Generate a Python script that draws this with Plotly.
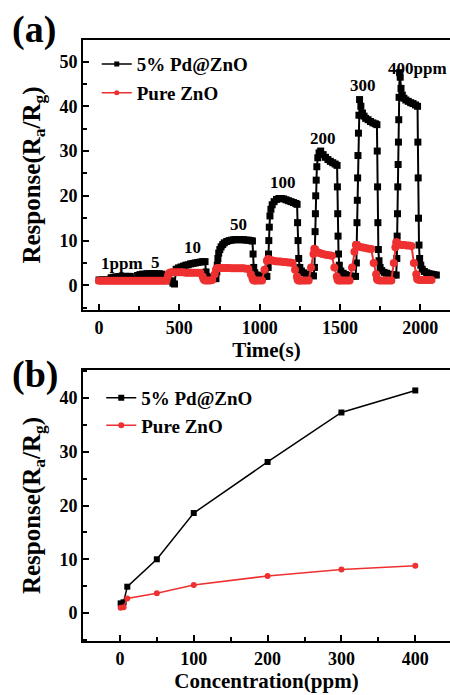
import plotly.graph_objects as go

FONT = "Liberation Serif"

# ---------------- Panel (a): dynamic response vs time ----------------
pd_t = [0, 15, 30, 45, 60,
        75, 90, 105, 120, 135, 150, 165, 180, 195, 210, 225,
        240, 255, 270, 285, 300, 315, 330, 345, 360, 375, 390, 405, 420, 435, 450, 460, 470,
        480, 495, 510, 525, 540, 555, 570, 585, 600, 615, 630, 645, 660,
        666, 672, 685, 700, 715, 728,
        733, 736, 740, 745, 752, 760, 770, 780, 795, 810, 825, 840, 855, 870, 885, 900, 915, 930, 945, 955,
        959, 963, 970, 985, 1000, 1015, 1030, 1045,
        1053, 1055, 1057, 1060, 1064, 1070, 1078, 1090, 1105, 1120, 1135, 1150, 1165, 1180, 1195, 1210, 1225, 1233,
        1236, 1239, 1243, 1250, 1260, 1275, 1290, 1305, 1320, 1335,
        1341, 1343, 1345, 1347, 1349, 1352, 1356, 1362, 1370, 1380, 1395, 1410, 1425, 1440, 1455, 1470, 1482,
        1484, 1486, 1488, 1491, 1496, 1505, 1520, 1535, 1550, 1565, 1580, 1597,
        1602, 1604, 1606, 1608, 1610, 1612, 1615, 1618, 1622, 1630, 1640, 1650, 1660, 1675, 1690, 1705, 1720, 1730,
        1732, 1734, 1736, 1739, 1743, 1750, 1760, 1775, 1790, 1805, 1820, 1835, 1850,
        1854, 1856, 1858, 1860, 1862, 1864, 1866, 1868, 1871, 1875, 1880, 1888, 1898, 1910, 1925, 1940, 1955, 1970, 1983,
        1985, 1987, 1989, 1992, 1996, 2003, 2012, 2025, 2040, 2055, 2070, 2085, 2100]
pd_r = [1.2, 1.2, 1.2, 1.2, 1.2,
        1.7, 1.8, 1.9, 1.9, 2.0, 2.0, 2.0, 2.0, 2.0, 1.4, 1.3,
        2.2, 2.4, 2.5, 2.5, 2.6, 2.6, 2.6, 2.6, 2.6, 2.6, 2.5, 1.5, 1.3, 1.2, 1.0, 0.5, 0.3,
        3.6, 3.9, 4.1, 4.3, 4.5, 4.6, 4.8, 4.9, 5.0, 5.1, 5.2, 5.3, 5.3,
        3.0, 2.0, 1.7, 1.6, 1.5, 1.5,
        3.0, 4.5, 6.0, 7.2, 8.0, 8.6, 9.1, 9.5, 9.8, 10.0, 10.1, 10.2, 10.2, 10.2, 10.2, 10.2, 10.1, 10.1, 10.0, 9.9,
        7.0, 4.0, 2.8, 2.3, 2.1, 2.0, 2.0, 2.0,
        4.0, 7.0, 10.0, 13.0, 15.5, 17.0, 18.0, 18.7, 19.2, 19.4, 19.4, 19.3, 19.1, 18.9, 18.7, 18.5, 18.3, 18.1,
        14.0, 10.0, 6.0, 4.0, 3.2, 2.8, 2.5, 2.3, 2.2, 2.1,
        4.0, 8.0, 12.0, 16.0, 20.0, 23.5, 26.5, 28.5, 29.6, 30.0, 29.2, 28.6, 28.1, 27.7, 27.4, 27.1, 26.8,
        22.0, 16.0, 11.0, 7.0, 4.5, 3.2, 2.7, 2.4, 2.2, 2.1, 2.0, 2.0,
        5.0, 9.0, 14.0, 19.0, 24.0, 29.0, 34.0, 38.0, 41.5, 40.0, 38.5, 37.8, 37.3, 37.0, 36.6, 36.3, 36.1, 35.9,
        30.0, 22.0, 14.0, 8.0, 5.5, 4.0, 3.3, 2.9, 2.7, 2.5, 2.4, 2.3, 2.3,
        6.0, 11.0, 16.0, 22.0, 27.0, 32.0, 37.0, 42.0, 47.5, 46.5, 44.0, 42.5, 41.8, 41.4, 41.1, 40.8, 40.6, 40.3, 40.0,
        32.0, 24.0, 15.0, 9.0, 6.0, 4.5, 3.6, 3.1, 2.8, 2.6, 2.5, 2.4, 2.3]

zno_t = [0, 15, 30, 45, 60, 75, 90, 105, 120, 135, 150, 165, 180, 195, 210, 225, 240, 255, 270,
         285, 300, 315, 330, 345, 360, 375, 390, 405, 420,
         428, 433, 440, 450, 465, 480, 495, 510, 525, 540, 555, 570, 585, 600, 615, 630, 645,
         650, 655, 662, 675, 690, 705, 720,
         728, 733, 740, 750, 765, 780, 795, 810, 825, 840, 855, 870, 885, 900, 915, 930, 945, 955,
         960, 965, 972, 985, 1000, 1015, 1030, 1045,
         1052, 1056, 1062, 1072, 1085, 1100, 1115, 1130, 1145, 1160, 1175, 1190, 1205, 1220, 1232,
         1236, 1241, 1248, 1260, 1275, 1290, 1305, 1320, 1335,
         1340, 1344, 1350, 1360, 1375, 1390, 1405, 1420, 1435, 1450, 1465, 1480,
         1485, 1490, 1500, 1515, 1530, 1545, 1560, 1575, 1590,
         1599, 1603, 1610, 1620, 1635, 1650, 1665, 1680, 1695, 1710, 1725,
         1730, 1735, 1745, 1760, 1775, 1790, 1805, 1820, 1835, 1845,
         1850, 1854, 1860, 1870, 1885, 1900, 1915, 1930, 1945, 1960, 1975,
         1980, 1985, 1995, 2010, 2025, 2040, 2055, 2070, 2085, 2100]
zno_r = [1.0, 1.0, 1.0, 1.0, 1.0, 1.0, 1.0, 1.0, 1.0, 1.0, 1.0, 1.0, 1.0, 1.0, 1.0, 1.0, 1.0, 1.0, 1.0,
         1.0, 1.0, 1.0, 1.0, 1.0, 1.0, 1.0, 1.0, 1.0, 1.0,
         2.0, 2.6, 2.8, 2.9, 2.9, 2.9, 2.9, 2.9, 2.9, 2.8, 2.8, 2.8, 2.8, 2.8, 2.8, 2.8,
         2.0, 1.5, 1.2, 1.1, 1.1, 1.1, 1.2,
         2.5, 3.5, 3.8, 3.9, 3.9, 3.9, 3.9, 3.9, 3.9, 3.8, 3.8, 3.8, 3.8, 3.8, 3.8, 3.7, 3.7,
         2.5, 1.6, 1.2, 1.1, 1.1, 1.1, 1.1, 1.1,
         3.5, 5.5, 5.9, 5.8, 5.7, 5.6, 5.5, 5.4, 5.3, 5.3, 5.2, 5.2, 5.1, 5.1, 5.0,
         3.5, 2.0, 1.3, 1.1, 1.1, 1.1, 1.1, 1.1, 1.1,
         4.0, 7.0, 8.2, 8.0, 7.7, 7.4, 7.2, 7.0, 6.9, 6.8, 6.7, 6.6,
         4.0, 2.0, 1.3, 1.1, 1.1, 1.1, 1.1, 1.1, 1.1,
         4.0, 7.5, 9.0, 9.0, 8.8, 8.6, 8.5, 8.4, 8.3, 8.2, 8.1,
         5.0, 2.5, 1.4, 1.2, 1.1, 1.1, 1.1, 1.1, 1.1, 1.1,
         5.0, 8.5, 9.6, 9.6, 9.3, 9.1, 9.0, 9.0, 8.9, 8.9, 8.8,
         5.0, 2.5, 1.5, 1.3, 1.2, 1.2, 1.2, 1.2, 1.2, 1.2]

conc_labels = ["1ppm", "5", "10", "50", "100", "200", "300", "400ppm"]
label_t = [143, 350, 580, 866, 1146, 1396, 1645, 1981]
label_r = [4.9, 5.1, 8.4, 13.6, 22.9, 32.9, 44.7, 48.4]

# ---------------- Panel (b): response vs concentration ----------------
conc = [1, 5, 10, 50, 100, 200, 300, 400]
resp_pd = [1.8, 2.0, 4.9, 10.0, 18.6, 28.1, 37.3, 41.4]
resp_zno = [1.0, 1.1, 2.7, 3.7, 5.2, 6.9, 8.1, 8.8]

BLACK = "#000000"
RED = "#ee3030"


def bfont(size):
    return dict(family=FONT, size=size, color=BLACK, weight="bold")


fig = go.Figure()

# panel (a) data
fig.add_trace(go.Scatter(x=pd_t, y=pd_r, mode="lines+markers", showlegend=False,
                         line=dict(color=BLACK, width=2),
                         marker=dict(symbol="square", size=7, color=BLACK),
                         xaxis="x", yaxis="y"))
fig.add_trace(go.Scatter(x=zno_t, y=zno_r, mode="lines+markers", showlegend=False,
                         line=dict(color=RED, width=2),
                         marker=dict(symbol="circle", size=8, color=RED),
                         xaxis="x", yaxis="y"))
# legend entries for (a)
fig.add_trace(go.Scatter(x=[None], y=[None], mode="lines+markers", name="5% Pd@ZnO",
                         line=dict(color=BLACK, width=1.5),
                         marker=dict(symbol="square", size=5, color=BLACK),
                         legend="legend", legendgroup="a1", xaxis="x", yaxis="y"))
fig.add_trace(go.Scatter(x=[None], y=[None], mode="lines+markers", name="Pure ZnO",
                         line=dict(color=RED, width=1.5),
                         marker=dict(symbol="circle", size=5, color=RED),
                         legend="legend", legendgroup="a2", xaxis="x", yaxis="y"))

# panel (b)
fig.add_trace(go.Scatter(x=conc, y=resp_pd, mode="lines+markers", name="5% Pd@ZnO",
                         line=dict(color=BLACK, width=1.5),
                         marker=dict(symbol="square", size=6, color=BLACK),
                         legend="legend2", legendgroup="b1", xaxis="x2", yaxis="y2"))
fig.add_trace(go.Scatter(x=conc, y=resp_zno, mode="lines+markers", name="Pure ZnO",
                         line=dict(color=RED, width=1.5),
                         marker=dict(symbol="circle", size=6, color=RED),
                         legend="legend2", legendgroup="b2", xaxis="x2", yaxis="y2"))

for lab, tx, ry in zip(conc_labels, label_t, label_r):
    fig.add_annotation(x=tx, y=ry, xref="x", yref="y", text=f"<b>{lab}</b>", showarrow=False,
                       font=bfont(17))

axis_common = dict(showline=True, linecolor=BLACK, linewidth=2, showgrid=False, zeroline=False,
                   ticks="inside", ticklen=6, tickwidth=2, tickcolor=BLACK,
                   tickfont=bfont(18))

ytitle = "<b>Response(R<sub>a</sub>/R<sub>g</sub>)</b>"

fig.update_layout(
    width=450, height=695,
    margin=dict(l=0, r=0, t=0, b=0),
    paper_bgcolor="white", plot_bgcolor="white",
    font=dict(family=FONT, color=BLACK),
    xaxis=dict(domain=[0.1844, 1.0], anchor="y", range=[-100, 2185], dtick=500, tick0=0,
               mirror=True,
               minor=dict(dtick=250, ticks="inside", ticklen=4, tickwidth=2, tickcolor=BLACK),
               title=dict(text="<b>Time(s)</b>", font=bfont(21), standoff=3),
               **axis_common),
    yaxis=dict(domain=[0.554, 0.9424], anchor="x", range=[-5.5, 54.8], dtick=10, tick0=0,
               minor=dict(dtick=5, ticks="inside", ticklen=4, tickwidth=2, tickcolor=BLACK),
               title=dict(text=ytitle, font=bfont(25), standoff=12),
               **axis_common),
    xaxis2=dict(domain=[0.1844, 1.0], anchor="y2", range=[-50, 447], dtick=100, tick0=0,
                mirror=True,
                minor=dict(dtick=50, ticks="inside", ticklen=4, tickwidth=2, tickcolor=BLACK),
                title=dict(text="<b>Concentration(ppm)</b>", font=bfont(21), standoff=1),
                **axis_common),
    yaxis2=dict(domain=[0.0777, 0.4676], anchor="x2", range=[-5.2, 45.2], dtick=10, tick0=0,
                minor=dict(dtick=5, ticks="inside", ticklen=4, tickwidth=2, tickcolor=BLACK),
                title=dict(text=ytitle, font=bfont(25), standoff=12),
                **axis_common),
    legend=dict(x=0.215, y=0.935, xanchor="left", yanchor="top", bgcolor="rgba(0,0,0,0)",
                font=bfont(19), tracegroupgap=1, itemwidth=30),
    legend2=dict(x=0.225, y=0.455, xanchor="left", yanchor="top", bgcolor="rgba(0,0,0,0)",
                 font=bfont(19), tracegroupgap=0, itemwidth=30),
)

fig.add_annotation(x=0.022, y=0.992, xref="paper", yref="paper", xanchor="left", yanchor="top",
                   text="<b>(a)</b>", showarrow=False, font=bfont(38))
fig.add_annotation(x=0.022, y=0.495, xref="paper", yref="paper", xanchor="left", yanchor="top",
                   text="<b>(b)</b>", showarrow=False, font=bfont(38))

fig.write_html("out.html")
